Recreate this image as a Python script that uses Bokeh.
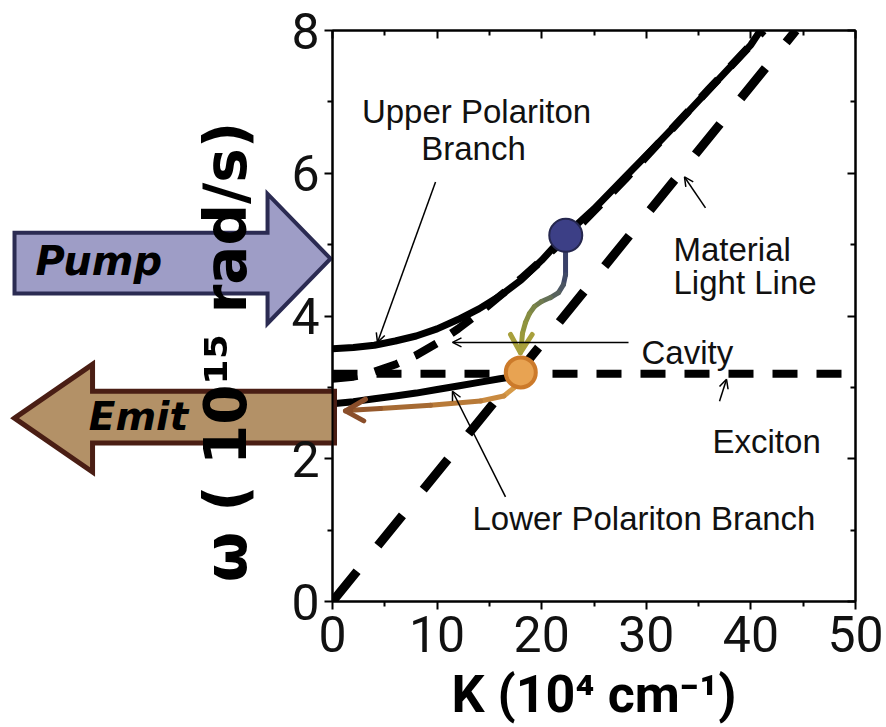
from bokeh.plotting import figure
from bokeh.models import (LinearAxis, Range1d, Label, Arrow, OpenHead, FixedTicker)
from bokeh.core.properties import value
from bokeh.embed import file_html
from bokeh.resources import INLINE

# Dispersion curves: K in 10^4 cm^-1, omega in 10^15 rad/s
up_k = [0, 2, 4, 6, 8, 10, 12, 14, 16, 18, 20, 22, 25, 28, 31, 34, 37, 40, 40.9]
up_w = [3.54, 3.56, 3.59, 3.65, 3.72, 3.82, 3.95, 4.10, 4.28, 4.50, 4.78, 5.10,
        5.50, 5.95, 6.40, 6.86, 7.33, 7.80, 8.0]

lp_k = [0, 2, 4, 6, 8, 10, 12, 14, 16, 17.3]
lp_w = [2.77, 2.80, 2.84, 2.88, 2.92, 2.97, 3.02, 3.07, 3.12, 3.15]

cav_k = [0, 2, 4, 6, 8, 10, 12, 14, 16, 18, 20, 24, 28, 32, 36, 40, 41.2]
cav_w = [3.12, 3.15, 3.22, 3.32, 3.45, 3.62, 3.82, 4.04, 4.28, 4.52, 4.78, 5.32,
         5.92, 6.55, 7.18, 7.80, 8.0]

light_k = [0, 44.3]
light_w = [0, 8.0]

exc_k = [0, 50]
exc_w = [3.19, 3.19]

pump_k, pump_w = [22.3], [5.13]
emit_k, emit_w = [18.0], [3.21]

x_ticks = [0, 10, 20, 30, 40, 50]
x_minor = [5, 15, 25, 35, 45]
y_ticks = [0, 2, 4, 6, 8]
y_minor = [1, 3, 5, 7]

TEXT_FONT = "Liberation Sans"
TICK_FONT = "Roboto"

p = figure(width=886, height=727, x_range=Range1d(0, 50), y_range=Range1d(0, 8),
           output_backend="svg", toolbar_location=None,
           min_border_left=332, min_border_right=31, min_border_top=30,
           min_border_bottom=124)
p.xgrid.visible = False
p.ygrid.visible = False
p.outline_line_color = "black"
p.outline_line_width = 2
p.background_fill_color = "white"
p.border_fill_color = "white"

xt = FixedTicker(ticks=x_ticks, minor_ticks=x_minor)
yt = FixedTicker(ticks=y_ticks, minor_ticks=y_minor)

# Pump / Emit block arrows beside the frame; on the guide level so they are
# not clipped and the vertical axis title is painted over them
p.patch([-30.40, -6.21, -6.21, -0.19, -6.21, -6.21, -30.40],
        [5.166, 5.166, 5.710, 4.803, 3.895, 4.314, 4.314],
        fill_color="#9e9dc6", line_color="#2b2b52", line_width=4,
        line_join="miter", level="guide")
p.patch([-30.40, -22.94, -22.94, 0.19, 0.19, -22.94, -22.94],
        [2.569, 3.323, 2.946, 2.946, 2.220, 2.220, 1.815],
        fill_color="#b39167", line_color="#4a1e14", line_width=5,
        line_join="miter", level="guide")
p.text([-28.4], [4.77], text=["Pump"], text_font=value("DejaVu Sans"),
       text_font_style="bold italic", text_font_size="40px",
       text_baseline="alphabetic", text_color="black", level="guide")
p.text([-23.3], [2.585], text=["Emit"], text_font=value("DejaVu Sans"),
       text_font_style="bold italic", text_font_size="39px",
       text_baseline="alphabetic", text_color="black", level="guide")

for ax in p.xaxis:
    ax.ticker = xt
    ax.axis_label = "K (10\u2074 cm\u207b\u00b9)"
    ax.axis_label_text_font = TICK_FONT
    ax.axis_label_text_font_style = "bold"
    ax.axis_label_text_font_size = "52px"
    ax.axis_label_text_color = "black"
    ax.axis_label_standoff = 9
    ax.major_label_text_font = TICK_FONT
    ax.major_label_text_font_size = "50px"
    ax.major_label_text_color = "#111111"
    ax.major_label_standoff = 6

for ax in p.yaxis:
    ax.ticker = yt
    ax.axis_label = "\u03c9 ( 10\u00b9\u2075 rad/s)" + "\u00a0" * 3 + "\u2009"
    ax.axis_label_text_font = "DejaVu Sans"
    ax.axis_label_text_font_style = "bold"
    ax.axis_label_text_font_size = "58px"
    ax.axis_label_text_color = "black"
    ax.axis_label_standoff = 28
    ax.major_label_text_font = TICK_FONT
    ax.major_label_text_font_size = "50px"
    ax.major_label_text_color = "#111111"
    ax.major_label_standoff = 5

for ax in list(p.xaxis) + list(p.yaxis):
    ax.axis_line_width = 2
    ax.axis_line_color = "black"
    ax.major_tick_line_width = 2
    ax.minor_tick_line_width = 2
    ax.major_tick_out = 8
    ax.major_tick_in = 0
    ax.minor_tick_out = 5
    ax.minor_tick_in = 0

# mirrored frame axes, ticks pointing inward, no labels
top = LinearAxis(ticker=xt, major_label_text_font_size="0px")
right = LinearAxis(ticker=yt, major_label_text_font_size="0px")
for ax in (top, right):
    ax.axis_line_width = 2
    ax.major_tick_line_width = 2
    ax.minor_tick_line_width = 2
    ax.major_tick_in = 8
    ax.major_tick_out = 0
    ax.minor_tick_in = 5
    ax.minor_tick_out = 0
    ax.major_label_text_color = None
p.add_layout(top, "above")
p.add_layout(right, "right")

# dispersion lines
p.line(exc_k, exc_w, line_color="black", line_width=8, line_dash="25 19")
p.line(light_k, light_w, line_color="black", line_width=9, line_dash="39 33")
p.line(cav_k, cav_w, line_color="black", line_width=8, line_dash="25 18")
p.line(up_k, up_w, line_color="black", line_width=7)
p.line(lp_k, lp_w, line_color="black", line_width=7)

# relaxation path from the pumped state down to the emitting state
wave_x = [22.28, 22.28, 22.08, 21.61, 20.84, 19.98, 19.31, 18.83, 18.45, 18.16,
          18.07, 17.97]
wave_y = [4.905, 4.579, 4.440, 4.328, 4.258, 4.202, 4.132, 4.035, 3.909, 3.756,
          3.602, 3.486]
wave_c = ["#394068", "#414a67", "#4c5663", "#58635d", "#647056", "#707b4f",
          "#7b8548", "#868d42", "#90943d", "#99993b", "#a39e3b"]
p.multi_line([[wave_x[i], wave_x[i + 1]] for i in range(len(wave_x) - 1)],
             [[wave_y[i], wave_y[i + 1]] for i in range(len(wave_y) - 1)],
             line_color=wave_c, line_width=5, line_cap="round")
p.line([17.02, 17.97, 19.09], [3.741, 3.486, 3.741], line_color="#a8a03c",
       line_width=5, line_cap="round", line_join="round")

# emission path from the lower branch out of the cavity
emi_x = [17.69, 17.50, 16.38, 14.15, 9.37, 4.59, 1.72, 1.24]
emi_y = [3.058, 3.012, 2.880, 2.810, 2.750, 2.704, 2.681, 2.671]
emi_c = ["#dba04c", "#d69a48", "#c98a40", "#b87a38", "#a66a33", "#95592d",
         "#8a4e2a"]
p.multi_line([[emi_x[i], emi_x[i + 1]] for i in range(len(emi_x) - 1)],
             [[emi_y[i], emi_y[i + 1]] for i in range(len(emi_y) - 1)],
             line_color=emi_c, line_width=5, line_cap="round")
p.line([3.15, 1.24, 2.99], [2.834, 2.671, 2.531], line_color="#8a4e2a",
       line_width=5, line_cap="round", line_join="round")

# states
p.scatter(pump_k, pump_w, size=33, fill_color="#3c3f86", line_color="#25274e",
          line_width=2)
p.scatter(emit_k, emit_w, size=30, fill_color="#e8a352", line_color="#cc7a2a",
          line_width=4)

# callout pointers
def pointer(x0, y0, x1, y1):
    p.add_layout(Arrow(x_start=x0, y_start=y0, x_end=x1, y_end=y1,
                       line_color="black", line_width=1.5,
                       end=OpenHead(size=9, line_width=1.5, line_color="black")))

pointer(9.85, 5.878, 4.30, 3.630)     # upper branch
pointer(28.30, 3.630, 11.47, 3.630)   # cavity
pointer(37.00, 2.806, 37.67, 3.113)   # exciton
pointer(35.66, 5.515, 33.65, 5.948)   # light line
pointer(16.54, 1.466, 11.47, 2.946)   # lower branch

def note(x, y, s, align="left"):
    p.add_layout(Label(x=x, y=y, text=s, text_font=TEXT_FONT,
                       text_font_size="33px", text_color="#111111",
                       text_align=align, text_baseline="alphabetic"))

note(13.77, 6.86, "Upper Polariton", "center")
note(13.48, 6.348, "Branch", "center")
note(32.6, 4.928, "Material")
note(32.6, 4.463, "Light Line")
note(29.54, 3.49, "Cavity")
note(36.33, 2.248, "Exciton")
note(13.38, 1.159, "Lower Polariton Branch")

open("out.html", "w").write(file_html(p, INLINE))
